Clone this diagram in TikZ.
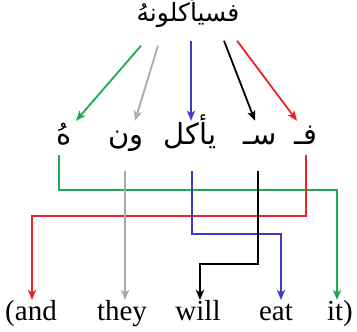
\documentclass[tikz,border=0pt]{standalone}
\usepackage{fontspec}
\setmainfont{Liberation Serif}
\newfontfamily\arabicfont[Script=Arabic]{DejaVu Sans}
\TeXXeTstate=1
\usetikzlibrary{arrows.meta}

\definecolor{lnkgreen}{RGB}{30,170,80}
\definecolor{lnkred}{RGB}{235,35,35}
\definecolor{lnkblue}{RGB}{60,60,200}
\definecolor{lnkgray}{RGB}{170,170,170}

\begin{document}
\begin{tikzpicture}[x=1pt, y=-1pt,
    link/.style={line width=1.8pt, line join=miter},
    tip/.style={-{Stealth[length=10pt, width=8pt, inset=2.5pt]}},
    arword/.style={font=\arabicfont\fontsize{25}{28}\selectfont, inner sep=0pt, text height=18pt, text depth=7pt},
    arpart/.style={font=\arabicfont\fontsize{29}{32}\selectfont, inner sep=0pt, text height=20pt, text depth=8pt},
    enword/.style={font=\fontsize{29}{30}\selectfont, inner sep=0pt, text height=20pt, text depth=7pt, anchor=north}]
    \useasboundingbox (0,0) rectangle (357,332);
    % whole word
    \node[arword] (word) at (188,16) {\beginR فسيأكلونهُ\endR};
    % segments
    \node[arword, arpart] (ha)  at (64,138)  {\beginR هُ\endR};
    \node[arword, arpart] (wn)  at (126,138) {\beginR ون\endR};
    \node[arword, arpart] (akl) at (190,138) {\beginR يأكل\endR};
    \node[arword, arpart] (sa)  at (260,138) {\beginR سـ\endR};
    \node[arword, arpart] (fa)  at (306,138) {\beginR فـ\endR};
    % english gloss
    \node[enword] (and)  at (31,300)  {(and};
    \node[enword] (they) at (122,300) {they};
    \node[enword] (will) at (198,300) {will};
    \node[enword] (eat)  at (276,300) {eat};
    \node[enword] (it)   at (340,300) {it)};
    % word to segments
    \draw[link, tip, lnkgreen] ([xshift=-47pt, yshift=-17pt]word.south) -- ([xshift=12pt, yshift=3pt]ha.north);
    \draw[link, tip, lnkgray]  ([xshift=-30pt, yshift=-17pt]word.south) -- ([xshift=9pt, yshift=3pt]wn.north);
    \draw[link, tip, lnkblue]  ([xshift=3pt, yshift=-12pt]word.south) -- ([xshift=1pt, yshift=3pt]akl.north);
    \draw[link, tip, black]    ([xshift=36pt, yshift=-12pt]word.south) -- ([xshift=-5pt, yshift=3pt]sa.north);
    \draw[link, tip, lnkred]   ([xshift=49pt, yshift=-12pt]word.south) -- ([xshift=-9pt, yshift=3pt]fa.north);
    % segments to gloss
    \draw[link, tip, lnkgreen] ([xshift=-5pt, yshift=-3pt]ha.south) -- ++(0,35) -| ([xshift=-3pt]it.north);
    \draw[link, tip, lnkred]   ([yshift=-3pt]fa.south) -- ++(0,61) -| ([xshift=1pt]and.north);
    \draw[link, tip, lnkgray]  ([xshift=-1pt, yshift=-19pt]wn.south) -- ([xshift=3pt]they.north);
    \draw[link, tip, lnkblue]  ([xshift=2pt, yshift=-19pt]akl.south) -- ++(0,63) -| ([xshift=5pt]eat.north);
    \draw[link, tip, black]    ([xshift=-2pt, yshift=-19pt]sa.south) -- ++(0,93) -| ([xshift=2pt]will.north);
\end{tikzpicture}
\end{document}
